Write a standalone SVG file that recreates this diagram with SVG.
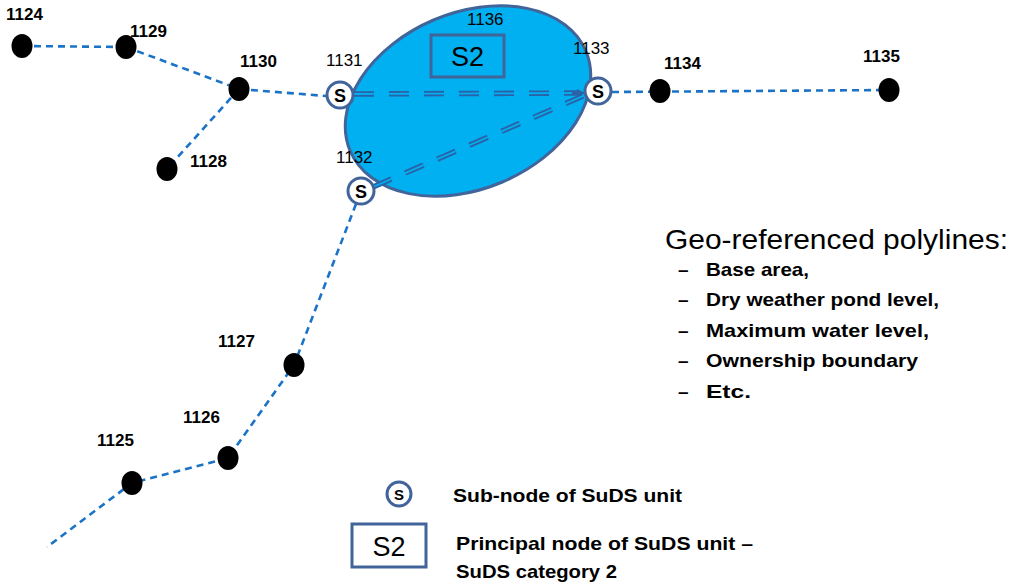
<svg xmlns="http://www.w3.org/2000/svg" width="1014" height="588" viewBox="0 0 1014 588">
  <style>
    .pipe { fill: none; stroke: #1A73C6; stroke-width: 2.6; stroke-dasharray: 7 5; }
    .link-outer { fill: none; stroke: #2A62A8; stroke-width: 5.5; stroke-dasharray: 20 15; }
    .link-inner { fill: none; stroke: #00B0F0; stroke-width: 1.8; stroke-dasharray: 20 15; }
    .dot { fill: #000; }
    .sub { fill: #fff; stroke: #41649A; stroke-width: 3; }
    .frame { fill: none; stroke: #41649A; stroke-width: 3; }
    .lbl { font-family: "Liberation Sans", Arial, sans-serif; font-size: 17px; font-weight: bold; fill: #000; }
    .lbl-r { font-family: "Liberation Sans", Arial, sans-serif; font-size: 17px; fill: #000; }
    .s { font-family: "Liberation Sans", Arial, sans-serif; font-size: 18px; font-weight: bold; fill: #000; text-anchor: middle; }
    .s2 { font-family: "Liberation Sans", Arial, sans-serif; font-size: 27px; fill: #000; text-anchor: middle; }
    .head { font-family: "Liberation Sans", Arial, sans-serif; font-size: 28px; fill: #000; }
    .item { font-family: "Liberation Sans", Arial, sans-serif; font-size: 19px; font-weight: bold; fill: #000; }
  </style>
  <defs>
    <marker id="arrow" viewBox="0 0 10 10" refX="9" refY="5" markerWidth="4" markerHeight="4" orient="auto" markerUnits="strokeWidth">
      <path d="M0,0 L10,5 L0,10 z" fill="#2A62A8"/>
    </marker>
  </defs>

  <rect width="1014" height="588" fill="#fff"/>

  <!-- SuDS unit area (principal node) -->
  <g id="node-1136">
    <ellipse cx="468" cy="101" rx="128" ry="88" transform="rotate(-23 468 101)" fill="#00B0F0" stroke="#41649A" stroke-width="3"/>
    <rect class="frame" x="431" y="35" width="73" height="42"/>
    <text class="s2" x="467.5" y="66">S2</text>
    <text class="lbl-r" x="467" y="25">1136</text>
  </g>

  <!-- pipes and links -->
  <g id="connectors">
    <line class="pipe" x1="22" y1="46" x2="126" y2="47"/>
    <line class="pipe" x1="126" y1="47" x2="239" y2="89"/>
    <line class="pipe" x1="239" y1="89" x2="167" y2="169"/>
    <line class="pipe" x1="239" y1="89" x2="326" y2="96"/>
    <line class="pipe" x1="612" y1="92" x2="889" y2="90"/>
    <polyline class="pipe" points="356,204 294,365 228,458 132,483 47,547"/>
    <line class="link-outer" x1="354" y1="94" x2="580" y2="93"/>
    <line class="link-inner" x1="354" y1="94" x2="580" y2="93"/>
    <line x1="572" y1="93" x2="584" y2="93" stroke="#2A62A8" stroke-width="2" marker-end="url(#arrow)"/>
    <line class="link-outer" x1="373" y1="187" x2="583" y2="96"/>
    <line class="link-inner" x1="373" y1="187" x2="583" y2="96"/>
  </g>

  <!-- manholes -->
  <g id="node-1124"><ellipse class="dot" cx="22" cy="46" rx="10.5" ry="12"/><text class="lbl" x="6" y="20">1124</text></g>
  <g id="node-1129"><ellipse class="dot" cx="126" cy="47" rx="10.5" ry="12"/><text class="lbl" x="130" y="37">1129</text></g>
  <g id="node-1130"><ellipse class="dot" cx="239" cy="89" rx="10.5" ry="12"/><text class="lbl" x="240" y="67">1130</text></g>
  <g id="node-1128"><ellipse class="dot" cx="167" cy="169" rx="10.5" ry="12"/><text class="lbl" x="190" y="167">1128</text></g>
  <g id="node-1134"><ellipse class="dot" cx="660" cy="91" rx="10.5" ry="12"/><text class="lbl" x="664" y="69">1134</text></g>
  <g id="node-1135"><ellipse class="dot" cx="889" cy="90" rx="10.5" ry="12"/><text class="lbl" x="863" y="62">1135</text></g>
  <g id="node-1127"><ellipse class="dot" cx="294" cy="365" rx="10.5" ry="12"/><text class="lbl" x="218" y="347">1127</text></g>
  <g id="node-1126"><ellipse class="dot" cx="228" cy="458" rx="10.5" ry="12"/><text class="lbl" x="183" y="423">1126</text></g>
  <g id="node-1125"><ellipse class="dot" cx="132" cy="483" rx="10.5" ry="12"/><text class="lbl" x="97" y="446">1125</text></g>

  <!-- sub-nodes of the SuDS unit -->
  <g id="node-1131"><circle class="sub" cx="340" cy="95" r="13"/><text class="s" x="340" y="101.5">S</text><text class="lbl-r" x="326" y="66">1131</text></g>
  <g id="node-1133"><circle class="sub" cx="598" cy="91" r="13"/><text class="s" x="598" y="97.5">S</text><text class="lbl-r" x="573" y="54">1133</text></g>
  <g id="node-1132"><circle class="sub" cx="361" cy="191" r="13"/><text class="s" x="361" y="197.5">S</text><text class="lbl-r" x="336" y="163">1132</text></g>

  <!-- polyline notes -->
  <g id="notes">
    <text class="head" x="665" y="249" textLength="343" lengthAdjust="spacingAndGlyphs">Geo-referenced polylines:</text>
    <text class="item" x="678" y="276">–</text><text class="item" x="706" y="276" textLength="103" lengthAdjust="spacingAndGlyphs">Base area,</text>
    <text class="item" x="678" y="306">–</text><text class="item" x="706" y="306" textLength="233" lengthAdjust="spacingAndGlyphs">Dry weather pond level,</text>
    <text class="item" x="678" y="337">–</text><text class="item" x="706" y="337" textLength="223" lengthAdjust="spacingAndGlyphs">Maximum water level,</text>
    <text class="item" x="678" y="367">–</text><text class="item" x="706" y="367" textLength="212" lengthAdjust="spacingAndGlyphs">Ownership boundary</text>
    <text class="item" x="678" y="398">–</text><text class="item" x="706" y="398" textLength="45" lengthAdjust="spacingAndGlyphs">Etc.</text>
  </g>

  <!-- legend -->
  <g id="legend">
    <circle class="sub" cx="399" cy="494" r="12"/>
    <text class="s" x="399" y="500" style="font-size:15px">S</text>
    <text class="item" x="453" y="502" textLength="229" lengthAdjust="spacingAndGlyphs">Sub-node of SuDS unit</text>
    <rect class="frame" x="352" y="524" width="74" height="43"/>
    <text class="s2" x="389" y="556">S2</text>
    <text class="item" x="456" y="550" textLength="297" lengthAdjust="spacingAndGlyphs">Principal node of SuDS unit –</text>
    <text class="item" x="456" y="578" textLength="161" lengthAdjust="spacingAndGlyphs">SuDS category 2</text>
  </g>
</svg>
